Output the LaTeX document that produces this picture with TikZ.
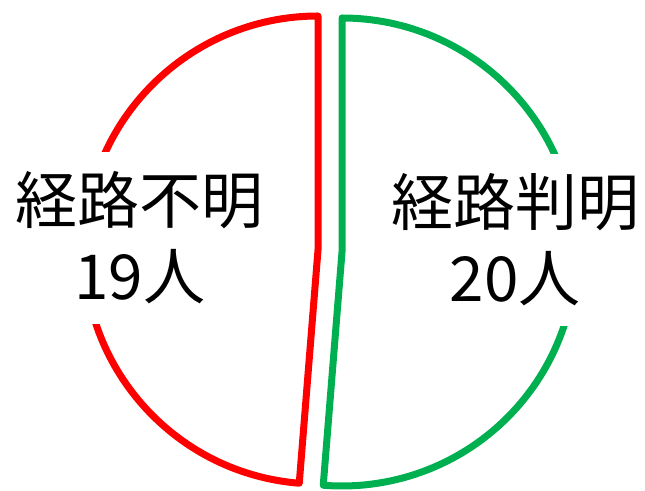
\documentclass[tikz,border=0pt]{standalone}
\usepackage{fontspec}
\newfontfamily\jpfont{Noto Sans CJK JP}
\definecolor{pieRed}{HTML}{FF0000}
\definecolor{pieGreen}{HTML}{00B050}

\begin{document}
\begin{tikzpicture}[x=1pt,y=1pt,
    slice/.style={line width=7pt,line join=round},
    lbl/.style={fill=white,align=center,inner xsep=2pt,inner ysep=20pt,
      font=\jpfont\fontsize{62}{76}\selectfont}]
  \useasboundingbox (0,0) rectangle (645,490);
  % \draw[help lines,step=50] (0,0) grid (645,490);
  \coordinate (cR) at (318,240);
  \coordinate (cG) at (342,238);
  \draw[slice,pieRed] (cR) -- ++(90:234) arc[start angle=90,end angle=265.4,radius=234] -- cycle;
  \draw[slice,pieGreen] (cG) -- ++(90:234) arc[start angle=90,end angle=-94.6,radius=234] -- cycle;
  \node[lbl] (unknown) at (140,252) {経路不明\\19人};
  \node[lbl] (known) at (515,250) {経路判明\\20人};
\end{tikzpicture}
\end{document}
